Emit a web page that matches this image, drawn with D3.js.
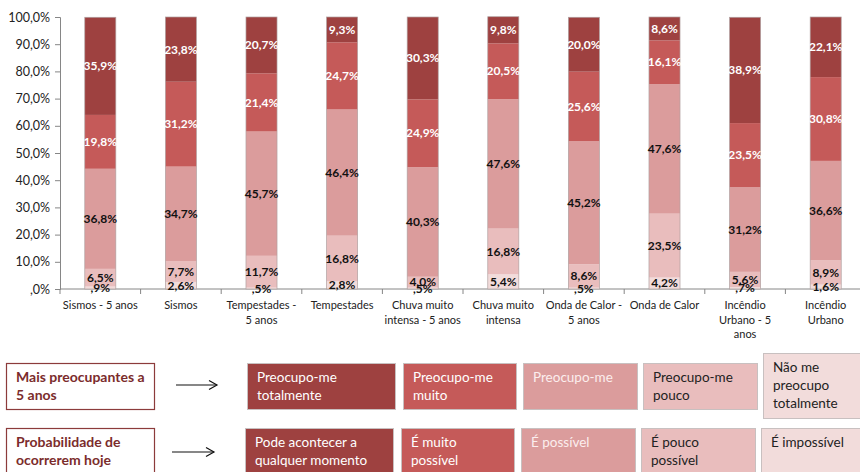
<!DOCTYPE html>
<html>
<head>
<meta charset="utf-8">
<script src="https://cdn.jsdelivr.net/npm/d3@7"></script>
<style>
  body { margin: 0; background: #fff; }
  svg { display: block; font-family: Lato, "Open Sans", sans-serif; }
</style>
</head>
<body>
<div id="dataviz"></div>
<script>
// categories (x axis), each label split into lines
const categories = [
  ["Sismos - 5 anos"], ["Sismos"], ["Tempestades  -", "5 anos"], ["Tempestades"],
  ["Chuva muito", "intensa - 5 anos"], ["Chuva muito", "intensa"], ["Onda de Calor -", "5 anos"],
  ["Onda de Calor"], ["Incêndio", "Urbano  - 5", "anos"], ["Incêndio", "Urbano"]
];

// series, bottom to top
const naoPreocupo = [0.9, 2.6, 0.5, 2.8, 0.5, 5.4, 0.5, 4.2, 0.7, 1.6];
const pouco       = [6.5, 7.7, 11.7, 16.8, 4.0, 16.8, 8.6, 23.5, 5.6, 8.9];
const preocupo    = [36.8, 34.7, 45.7, 46.4, 40.3, 47.6, 45.2, 47.6, 31.2, 36.6];
const muito       = [19.8, 31.2, 21.4, 24.7, 24.9, 20.5, 25.6, 16.1, 23.5, 30.8];
const totalmente  = [35.9, 23.8, 20.7, 9.3, 30.3, 9.8, 20.0, 8.6, 38.9, 22.1];

const yTicks = [0, 10, 20, 30, 40, 50, 60, 70, 80, 90, 100];

// legend rows
const legendTitles = [["Mais preocupantes a", "5 anos"], ["Probabilidade  de", "ocorrerem hoje"]];
const legendRow1 = [["Preocupo-me", "totalmente"], ["Preocupo-me", "muito"], ["Preocupo-me"],
                    ["Preocupo-me", "pouco"], ["Não me", "preocupo", "totalmente"]];
const legendRow2 = [["Pode acontecer a", "qualquer momento"], ["É muito", "possível"], ["É possível"],
                    ["É pouco", "possível"], ["É impossível"]];

const keys = ["naoPreocupo", "pouco", "preocupo", "muito", "totalmente"];
const colors = {totalmente: "#9e4140", muito: "#c55a59", preocupo: "#db9c9c", pouco: "#e9bdbd", naoPreocupo: "#f2dcdb"};
const labelColors = {totalmente: "#fff", muito: "#fff", preocupo: "#111", pouco: "#111", naoPreocupo: "#111"};
const series = {naoPreocupo, pouco, preocupo, muito, totalmente};

const table = categories.map((c, i) => {
  const row = {cat: i};
  keys.forEach(k => row[k] = series[k][i]);
  return row;
});

const fmt = v => {
  const s = v.toFixed(1).replace(".", ",");
  return (s.startsWith("0,") ? s.slice(1) : s) + "%";
};

const margin = {top: 17, right: 0, bottom: 183, left: 60},
    width = 860 - margin.left - margin.right,
    height = 472 - margin.top - margin.bottom;

let root = d3.select("#dataviz")
            .append("svg")
            .attr("width", 860)
            .attr("height", 472);
let svg = root.append("g")
            .attr("transform", `translate(${margin.left}, ${margin.top})`);

const xScale = d3.scaleBand()
  .domain(d3.range(categories.length))
  .range([0, 806])
  .paddingInner(0.615)
  .paddingOuter(0.3075);

const yScale = d3.scaleLinear()
  .domain([0, 100])
  .range([height, 0]);

// y axis
const yAxis = svg.append("g")
  .call(d3.axisLeft(yScale).tickValues(yTicks).tickSize(5).tickFormat(d => fmt(d)));
yAxis.select(".domain").attr("stroke", "#868686");
yAxis.selectAll(".tick line").attr("stroke", "#868686");
yAxis.selectAll(".tick text").attr("x", -10).attr("fill", "#222")
  .style("font-size", "12.5px").style("font-family", "Lato, sans-serif");

// x axis
const xAxisG = svg.append("g").attr("transform", `translate(0, ${height})`);
xAxisG.append("line").attr("x1", 0).attr("x2", width).attr("stroke", "#868686");
const step = xScale.step();
d3.range(categories.length + 1).forEach(i => {
  xAxisG.append("line")
    .attr("x1", i * step).attr("x2", i * step)
    .attr("y1", 0).attr("y2", 5)
    .attr("stroke", "#868686");
});
categories.forEach((lines, i) => {
  const t = xAxisG.append("text")
    .attr("x", xScale(i) + xScale.bandwidth() / 2)
    .attr("y", 20)
    .attr("text-anchor", "middle")
    .attr("fill", "#222")
    .style("font-size", "11px");
  lines.forEach((l, j) => t.append("tspan")
    .attr("x", xScale(i) + xScale.bandwidth() / 2)
    .attr("dy", j === 0 ? 0 : 14.5)
    .text(l));
});

// stacked bars
const stacked = d3.stack().keys(keys)(table);

const layers = svg.selectAll(".layer")
  .data(stacked)
  .join("g")
  .attr("class", "layer")
  .attr("fill", d => colors[d.key]);

layers.selectAll("rect")
  .data(d => d)
  .join("rect")
  .attr("x", d => xScale(d.data.cat))
  .attr("y", d => yScale(d[1]))
  .attr("width", xScale.bandwidth())
  .attr("height", d => yScale(d[0]) - yScale(d[1]));

// thin grey outline of each bar
svg.selectAll(".outline")
  .data(table)
  .join("rect")
  .attr("x", d => xScale(d.cat))
  .attr("y", d => yScale(d3.sum(keys, k => d[k])))
  .attr("width", xScale.bandwidth())
  .attr("height", d => height - yScale(d3.sum(keys, k => d[k])))
  .attr("fill", "none")
  .attr("stroke", "#b0a0a0")
  .attr("stroke-width", 0.7);

// data labels
stacked.forEach(layer => {
  svg.selectAll(null)
    .data(layer)
    .join("text")
    .attr("x", d => xScale(d.data.cat) + xScale.bandwidth() / 2)
    .attr("y", d => yScale((d[0] + d[1]) / 2))
    .attr("dy", "0.35em")
    .attr("text-anchor", "middle")
    .attr("fill", labelColors[layer.key])
    .style("font-size", "12px")
    .style("font-weight", "bold")
    .text(d => fmt(d[1] - d[0]));
});

// legend
const legendBoxes = [
  {x: 247, w: 148}, {x: 403, w: 113}, {x: 523, w: 114}, {x: 643, w: 114}, {x: 763, w: 100}
];
const legendText = [colors.totalmente, colors.muito, colors.preocupo, colors.pouco, colors.naoPreocupo];
const legendTextColor = ["#fff", "#fff", "#fbeeee", "#222", "#222"];

const legend = root.append("g");

function titleBox(lines, y, h) {
  legend.append("rect")
    .attr("x", 6.5).attr("y", y + 0.5).attr("width", 148).attr("height", h)
    .attr("fill", "#fff").attr("stroke", "#8c3b3b").attr("stroke-width", 1.2);
  lines.forEach((l, j) => legend.append("text")
    .attr("x", 16).attr("y", y + 19 + j * 18)
    .attr("fill", "#7b2c2c")
    .style("font-size", "14px").style("font-weight", "bold")
    .text(l));
}

function arrow(x1, x2, y) {
  legend.append("line").attr("x1", x1).attr("x2", x2).attr("y1", y).attr("y2", y)
    .attr("stroke", "#111").attr("stroke-width", 1.2);
  legend.append("path")
    .attr("d", `M${x2 - 8},${y - 4.5} L${x2},${y} L${x2 - 8},${y + 4.5}`)
    .attr("fill", "none").attr("stroke", "#111").attr("stroke-width", 1.2);
}

function boxRow(rows, y0, dx) {
  rows.forEach((lines, i) => {
    const b = legendBoxes[i];
    const tall = lines.length === 3;
    const y = tall ? y0 - 10 : y0;
    const h = tall ? 65 : (y0 > 400 ? 60 : 46);
    legend.append("rect")
      .attr("x", b.x - dx + 0.5).attr("y", y + 0.5)
      .attr("width", b.w).attr("height", h)
      .attr("fill", legendText[i])
      .attr("stroke", "#c8c0c0").attr("stroke-width", 1);
    lines.forEach((l, j) => legend.append("text")
      .attr("x", b.x - dx + 10).attr("y", y + 19 + j * 18)
      .attr("fill", legendTextColor[i])
      .style("font-size", "13.5px")
      .text(l));
  });
}

titleBox(legendTitles[0], 363, 46);
titleBox(legendTitles[1], 428, 60);
arrow(176, 217, 385);
arrow(172, 214, 452);
boxRow(legendRow1, 363, 0);
boxRow(legendRow2, 428, 2);
</script>
</body>
</html>
